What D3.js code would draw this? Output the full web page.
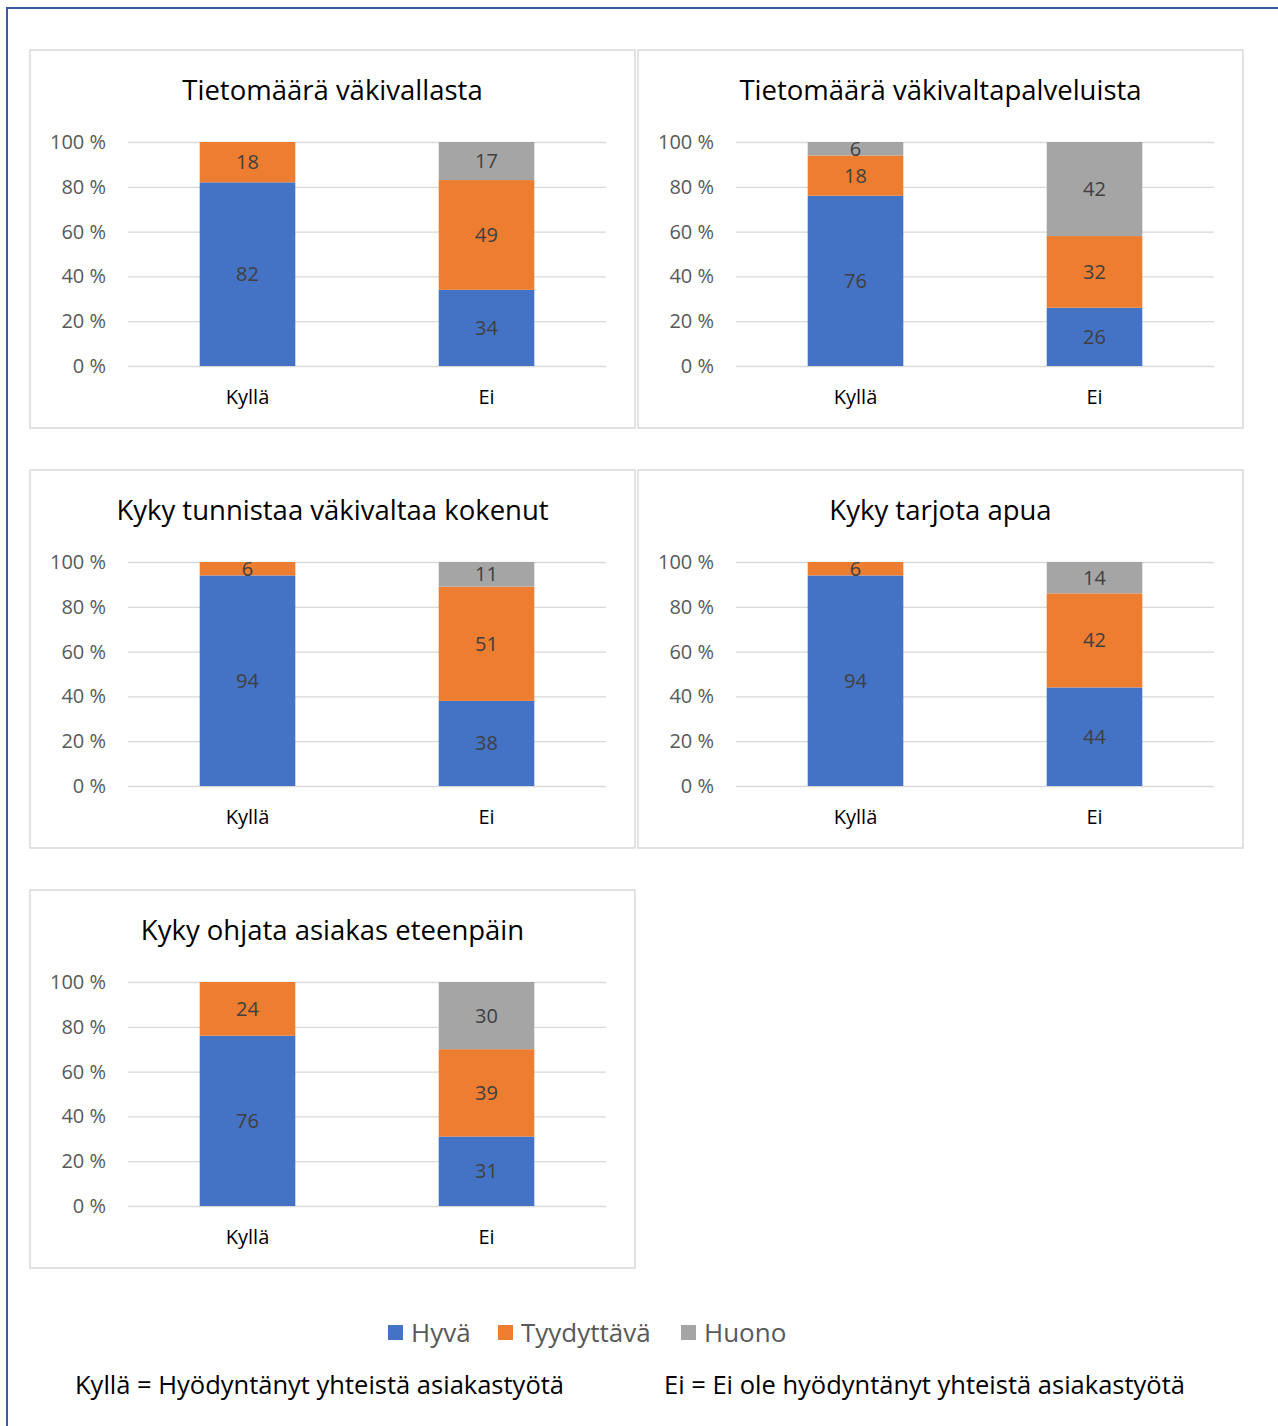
<!DOCTYPE html>
<html>
<head>
<meta charset="utf-8">
<script src="https://cdn.jsdelivr.net/npm/d3@7"></script>
<style>
  body { margin: 0; background: #fff; }
  svg { display: block; }
  text { font-family: "Open Sans", "Noto Sans", sans-serif; }
</style>
</head>
<body>
<svg id="chart" width="1278" height="1426"></svg>
<script>
// chart data
var titles = [
    'Tietomäärä väkivallasta',
    'Tietomäärä väkivaltapalveluista',
    'Kyky tunnistaa väkivaltaa kokenut',
    'Kyky tarjota apua',
    'Kyky ohjata asiakas eteenpäin'
];
var categories = ['Kyllä', 'Ei'];
var seriesNames = ['Hyvä', 'Tyydyttävä', 'Huono'];
var seriesColors = ['#4472C4', '#ED7D31', '#A5A5A5'];
// values per chart, [Kyllä, Ei]
var hyva = [[82, 34], [76, 26], [94, 38], [94, 44], [76, 31]];
var tyydyttava = [[18, 49], [18, 32], [6, 51], [6, 42], [24, 39]];
var huono = [[0, 17], [6, 42], [0, 11], [0, 14], [0, 30]];
var yTicks = [0, 20, 40, 60, 80, 100];
var footnotes = ['Kyllä = Hyödyntänyt yhteistä asiakastyötä', 'Ei = Ei ole hyödyntänyt yhteistä asiakastyötä'];

var svg = d3.select('#chart');

// outer frame
svg.append('rect')
    .attr('x', 7).attr('y', 8)
    .attr('width', 1300).attr('height', 1440)
    .attr('fill', 'none')
    .attr('stroke', '#3A5C9E')
    .attr('stroke-width', 2);

var panelW = 605, panelH = 378;
var margin = { top: 92, left: 98, right: 29, bottom: 62 };
var plotW = panelW - margin.left - margin.right,
    plotH = 224;

function drawChart(i) {
    var px = 30 + (i % 2) * 608,
        py = 50 + Math.floor(i / 2) * 420;
    var panel = svg.append('g').attr('transform', `translate(${px},${py})`);

    panel.append('rect')
        .attr('width', panelW).attr('height', panelH)
        .attr('fill', '#fff')
        .attr('stroke', '#D9D9D9')
        .attr('stroke-width', 1.5);

    panel.append('text')
        .attr('x', panelW / 2).attr('y', 50)
        .attr('text-anchor', 'middle')
        .style('font-size', '27.5px')
        .style('fill', '#000')
        .text(titles[i]);

    var g = panel.append('g').attr('transform', `translate(${margin.left},${margin.top})`);

    var x = d3.scaleBand().domain(categories).range([0, plotW]).paddingInner(0.6).paddingOuter(0.3);
    var y = d3.scaleLinear().domain([0, 100]).range([plotH, 0]);

    // gridlines
    g.append('g')
        .call(d3.axisLeft(y).tickValues(yTicks).tickSize(-plotW).tickFormat(''))
        .call(a => a.select('.domain').remove())
        .call(a => a.selectAll('line').attr('stroke', '#D9D9D9').attr('stroke-width', 1.3));

    // y labels
    g.append('g')
        .call(d3.axisLeft(y).tickValues(yTicks).tickSize(0).tickPadding(22).tickFormat(d => d + ' %'))
        .call(a => a.select('.domain').remove())
        .call(a => a.selectAll('text').style('font-size', '20px').style('fill', '#595959').style('font-family', '"Open Sans", sans-serif'));

    // category labels
    g.append('g')
        .attr('transform', `translate(0,${plotH})`)
        .call(d3.axisBottom(x).tickSize(0).tickPadding(24))
        .call(a => a.select('.domain').remove())
        .call(a => a.selectAll('text').style('font-size', '20px').style('fill', '#000').style('font-family', '"Open Sans", sans-serif'));

    var rows = categories.map((c, j) => ({ cat: c, Hyvä: hyva[i][j], Tyydyttävä: tyydyttava[i][j], Huono: huono[i][j] }));
    var stacked = d3.stack().keys(seriesNames)(rows);

    var layer = g.selectAll('.layer')
        .data(stacked)
        .enter()
        .append('g')
        .attr('class', 'layer')
        .attr('fill', (d, k) => seriesColors[k]);

    layer.selectAll('rect')
        .data(d => d.filter(s => s[1] - s[0] > 0))
        .enter()
        .append('rect')
        .attr('x', d => x(d.data.cat))
        .attr('y', d => y(d[1]))
        .attr('width', x.bandwidth())
        .attr('height', d => y(d[0]) - y(d[1]));

    layer.selectAll('text')
        .data(d => d.filter(s => s[1] - s[0] > 0))
        .enter()
        .append('text')
        .attr('x', d => x(d.data.cat) + x.bandwidth() / 2)
        .attr('y', d => (y(d[0]) + y(d[1])) / 2)
        .attr('dy', '0.35em')
        .attr('text-anchor', 'middle')
        .style('font-size', '20px')
        .style('fill', '#404040')
        .text(d => d[1] - d[0]);
}

titles.forEach((t, i) => drawChart(i));

// legend
var legendX = [388, 498, 681];
var legend = svg.append('g').attr('transform', 'translate(0,1333)');
seriesNames.forEach((s, k) => {
    legend.append('rect')
        .attr('x', legendX[k]).attr('y', -8)
        .attr('width', 15).attr('height', 15)
        .attr('fill', seriesColors[k]);
    legend.append('text')
        .attr('x', legendX[k] + 23).attr('y', 0)
        .attr('dy', '0.35em')
        .style('font-size', '26px')
        .style('fill', '#595959')
        .text(s);
});

// footnotes
var footX = [75, 664];
footnotes.forEach((f, k) => {
    svg.append('text')
        .attr('x', footX[k]).attr('y', 1385)
        .attr('dy', '0.35em')
        .style('font-size', '25.5px')
        .style('fill', '#000')
        .text(f);
});
</script>
</body>
</html>
